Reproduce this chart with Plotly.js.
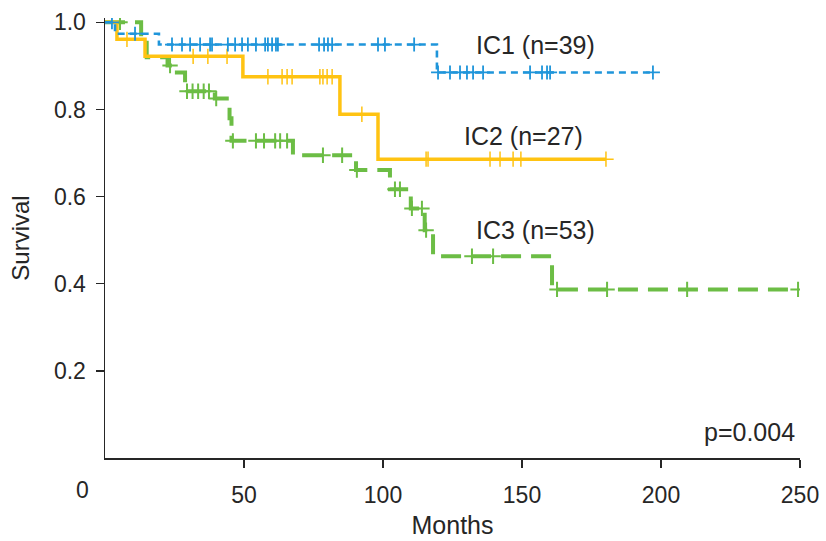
<!DOCTYPE html>
<html>
<head>
<meta charset="utf-8">
<script src="https://cdn.plot.ly/plotly-3.0.1.min.js"></script>
<style>
  html, body { margin: 0; padding: 0; background: #ffffff; }
  #chart { width: 826px; height: 541px; }
</style>
</head>
<body>
<div id="chart"></div>
<script>
// ---- Data (months, survival) ----
const ic1Times = [0, 3.6, 19.4, 119.4];
const ic1Surv = [1.0, 0.974, 0.949, 0.885];
const ic1Censor = [2.5, 10.8, 24.1, 27.7, 30.6, 34.2, 37.8, 38.5, 44.2, 46.8, 49.3, 51.4, 54.3, 57.6, 58.6, 60.1, 61.5, 62.2, 77, 78.8, 80.2, 81.7, 98.2, 100.7, 111.2, 119.8, 124.1, 127.7, 130.2, 132.4, 136, 152.9, 157.2, 159, 160.1, 197.1];

const ic2Times = [0, 4.3, 14.4, 49.6, 84.5, 98.2];
const ic2Surv = [1.0, 0.961, 0.922, 0.875, 0.789, 0.686];
const ic2Censor = [7.9, 31.7, 37, 43.9, 58.6, 63.7, 65.5, 67.3, 77.3, 78.4, 79.9, 81.7, 92.4, 115.5, 116.2, 138.5, 142.1, 146.8, 149.6, 180.2];

const ic3Times = [0, 13, 15, 22.5, 25, 28.8, 39.5, 44.8, 45.5, 67.6, 90.3, 102.5, 110, 115, 118, 160.8];
const ic3Surv = [1.0, 0.962, 0.92, 0.901, 0.885, 0.842, 0.825, 0.78, 0.728, 0.695, 0.661, 0.617, 0.573, 0.523, 0.463, 0.387];
const ic3Censor = [5.4, 23.4, 29.5, 31.5, 33.5, 35.5, 37.4, 40, 46, 54.3, 57.2, 61.2, 63, 65.5, 78.4, 85.3, 90.6, 104.3, 106.1, 110.4, 114, 115.5, 132, 139.6, 162.6, 180.6, 209.4, 249.3];

const groupLabels = ['IC1 (n=39)', 'IC2 (n=27)', 'IC3 (n=53)'];
const pValueText = 'p=0.004';
const xTickVals = [50, 100, 150, 200, 250];
const yTickVals = [0.2, 0.4, 0.6, 0.8, 1.0];

// ---- helpers ----
function survAt(times, surv, t) {
  let s = surv[0];
  for (let i = 0; i < times.length; i++) { if (times[i] <= t) s = surv[i]; }
  return s;
}
function stepTrace(times, surv, censor, color, width, dash) {
  const end = Math.max(censor[censor.length - 1], times[times.length - 1]);
  return {
    x: times.concat([end]),
    y: surv.concat([surv[surv.length - 1]]),
    type: 'scatter', mode: 'lines',
    line: { shape: 'hv', color: color, width: width, dash: dash },
    hoverinfo: 'skip', showlegend: false
  };
}
function censorTrace(times, surv, censor, color, lw, size) {
  return {
    x: censor,
    y: censor.map(t => survAt(times, surv, t)),
    type: 'scatter', mode: 'markers',
    marker: { symbol: 'cross-thin-open', size: size, color: color, line: { color: color, width: lw } },
    hoverinfo: 'skip', showlegend: false
  };
}

const blue = '#1f95da', yellow = '#ffc312', green = '#6cbd45';

const data = [
  stepTrace(ic3Times, ic3Surv, ic3Censor, green, 4, '20px,10px'),
  censorTrace(ic3Times, ic3Surv, ic3Censor, green, 2, 11),
  stepTrace(ic2Times, ic2Surv, ic2Censor, yellow, 3.5, 'solid'),
  censorTrace(ic2Times, ic2Surv, ic2Censor, yellow, 1.5, 11),
  stepTrace(ic1Times, ic1Surv, ic1Censor, blue, 2.6, '7px,5px'),
  censorTrace(ic1Times, ic1Surv, ic1Censor, blue, 1.8, 10)
];

const FAM = 'Liberation Sans, Arial, sans-serif';
const INK = '#262626';
const textFont = { family: FAM, size: 25, color: INK };

const layout = {
  width: 826, height: 541,
  margin: { l: 105, r: 26, t: 18, b: 83 },
  paper_bgcolor: '#ffffff', plot_bgcolor: '#ffffff',
  font: { family: FAM, size: 23, color: INK },
  xaxis: {
    range: [0, 250], tickvals: xTickVals, ticktext: xTickVals.map(String),
    showline: true, linecolor: INK, linewidth: 1.5, mirror: false,
    ticks: 'outside', ticklen: 8, tickwidth: 1.5, tickcolor: INK,
    ticklabelstandoff: 8,
    showgrid: false, zeroline: false, automargin: false,
    tickfont: { family: FAM, size: 23, color: INK },
    title: { text: 'Months', font: { family: FAM, size: 25, color: INK }, standoff: 9 }
  },
  yaxis: {
    range: [0, 1.01], tickvals: yTickVals, ticktext: yTickVals.map(v => v.toFixed(1)),
    showline: true, linecolor: INK, linewidth: 1.5,
    ticks: 'outside', ticklen: 8, tickwidth: 1.5, tickcolor: INK,
    ticklabelstandoff: 5,
    showgrid: false, zeroline: false, automargin: false,
    tickfont: { family: FAM, size: 23, color: INK },
    title: { text: 'Survival', font: { family: FAM, size: 24, color: INK }, standoff: 17 }
  },
  annotations: [
    { x: 154.7, y: 0.947, xref: 'x', yref: 'y', text: groupLabels[0], showarrow: false, xanchor: 'center', yanchor: 'middle', font: textFont },
    { x: 150.4, y: 0.739, xref: 'x', yref: 'y', text: groupLabels[1], showarrow: false, xanchor: 'center', yanchor: 'middle', font: textFont },
    { x: 154.7, y: 0.523, xref: 'x', yref: 'y', text: groupLabels[2], showarrow: false, xanchor: 'center', yanchor: 'middle', font: textFont },
    { x: 249, y: 0.06, xref: 'x', yref: 'y', text: pValueText, showarrow: false, xanchor: 'right', yanchor: 'middle', font: textFont },
    { x: -0.0317, y: -0.073, xref: 'paper', yref: 'paper', text: '0', showarrow: false, xanchor: 'center', yanchor: 'middle', font: { family: FAM, size: 23, color: INK } }
  ]
};

Plotly.newPlot('chart', data, layout, { displayModeBar: false, staticPlot: true });
</script>
</body>
</html>
